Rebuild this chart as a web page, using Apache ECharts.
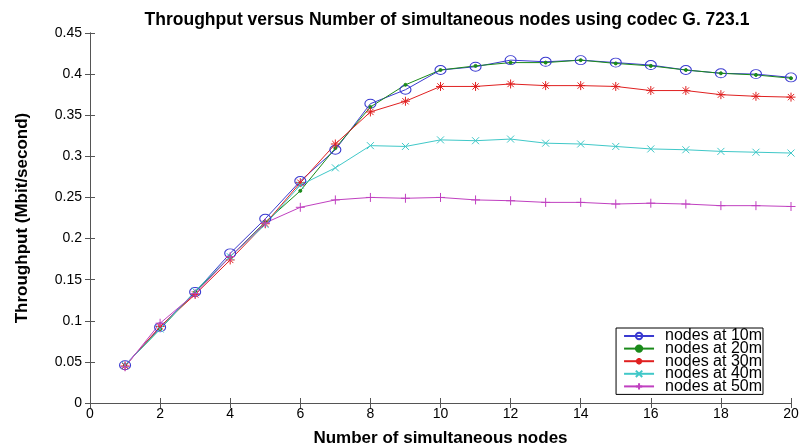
<!DOCTYPE html>
<html>
<head>
<meta charset="utf-8">
<script src="https://cdn.jsdelivr.net/npm/echarts@6/dist/echarts.min.js"></script>
<style>
  html, body { margin: 0; padding: 0; background: #fff; }
  #chart { width: 802px; height: 448px; }
</style>
</head>
<body>
<div id="chart"></div>
<script>
// nodes on x axis
const nodes = [1, 2, 3, 4, 5, 6, 7, 8, 9, 10, 11, 12, 13, 14, 15, 16, 17, 18, 19, 20];

// throughput (Mbit/s) per distance
const at10m = [0.046, 0.092, 0.135, 0.182, 0.224, 0.270, 0.308, 0.364, 0.381, 0.405, 0.409, 0.417, 0.415, 0.417, 0.414, 0.411, 0.405, 0.401, 0.400, 0.396];
const at20m = [0.046, 0.090, 0.135, 0.178, 0.220, 0.258, 0.310, 0.360, 0.387, 0.405, 0.410, 0.414, 0.414, 0.417, 0.413, 0.410, 0.405, 0.401, 0.399, 0.395];
const at30m = [0.045, 0.093, 0.132, 0.174, 0.218, 0.268, 0.315, 0.354, 0.367, 0.385, 0.385, 0.388, 0.386, 0.386, 0.385, 0.380, 0.380, 0.375, 0.373, 0.372];
const at40m = [0.046, 0.090, 0.136, 0.178, 0.217, 0.265, 0.286, 0.313, 0.312, 0.320, 0.319, 0.321, 0.316, 0.315, 0.312, 0.309, 0.308, 0.306, 0.305, 0.304];
const at50m = [0.044, 0.097, 0.133, 0.178, 0.219, 0.238, 0.247, 0.250, 0.249, 0.250, 0.247, 0.246, 0.244, 0.244, 0.242, 0.243, 0.242, 0.240, 0.240, 0.239];

const seriesNames = ['nodes at 10m', 'nodes at 20m', 'nodes at 30m', 'nodes at 40m', 'nodes at 50m'];

const chart = echarts.init(document.getElementById('chart'));

const pair = (vals) => nodes.map((n, i) => [n, vals[i]]);

// matlab-like markers
const ring = 'path://M1,0A1,1,0,1,1,-1,0A1,1,0,1,1,1,0Z';
const asterisk = 'path://M0,-1L0,1M-1,0L1,0M-0.7,-0.7L0.7,0.7M-0.7,0.7L0.7,-0.7';
const cross = 'path://M-1,-1L1,1M-1,1L1,-1';
const plus = 'path://M0,-1L0,1M-1,0L1,0';

const makeLine = (name, vals, color, symbol, size, fill) => ({
  name: name,
  type: 'line',
  data: pair(vals),
  symbol: symbol,
  symbolSize: size,
  showAllSymbol: true,
  lineStyle: { color: color, width: 1 },
  itemStyle: { color: fill, borderColor: color, borderWidth: 1 },
  emphasis: { disabled: true },
  animation: false
});

const axisLine = { show: true, lineStyle: { color: '#555', width: 1 } };
const tickIn = { show: true, inside: true, length: 5, lineStyle: { color: '#555' } };
const labelFont = { color: '#000', fontFamily: 'Liberation Sans', fontSize: 14 };
const nameFont = { fontFamily: 'Liberation Sans', fontWeight: 'bold', fontSize: 17, color: '#000' };

chart.setOption({
  backgroundColor: '#fff',
  title: {
    text: 'Throughput versus Number of simultaneous nodes using codec G. 723.1',
    left: 442,
    textAlign: 'center',
    top: 6,
    textStyle: { fontFamily: 'Liberation Sans', fontWeight: 'bold', fontSize: 17.5, color: '#000' }
  },
  grid: { left: 90, right: 11, top: 33, bottom: 45, containLabel: false, outerBoundsMode: 'none' },
  legend: {
    orient: 'vertical',
    right: 39,
    top: 328,
    data: seriesNames,
    backgroundColor: '#fff',
    borderColor: '#000',
    borderWidth: 1,
    borderRadius: 0,
    padding: [0, 1, 0, 7],
    itemWidth: 30,
    itemHeight: 8,
    itemGap: -3.4,
    textStyle: { fontFamily: 'Liberation Sans', fontSize: 16, color: '#000', padding: [0, 0, 0, 6] }
  },
  xAxis: [
    {
      type: 'value', min: 0, max: 20, interval: 2,
      name: 'Number of simultaneous nodes',
      nameLocation: 'middle', nameGap: 27,
      nameTextStyle: nameFont,
      axisLine: axisLine, axisTick: tickIn,
      axisLabel: Object.assign({ margin: 4 }, labelFont),
      splitLine: { show: false }
    },
    {
      type: 'value', min: 0, max: 20, interval: 2, position: 'top',
      axisLine: axisLine, axisTick: tickIn,
      axisLabel: { show: false }, splitLine: { show: false }
    }
  ],
  yAxis: [
    {
      type: 'value', min: 0, max: 0.45, interval: 0.05,
      name: 'Throughput (Mbit/second)',
      nameLocation: 'middle', nameGap: 59,
      nameTextStyle: nameFont,
      axisLine: axisLine, axisTick: tickIn,
      axisLabel: Object.assign({ margin: 8 }, labelFont),
      splitLine: { show: false }
    },
    {
      type: 'value', min: 0, max: 0.45, interval: 0.05, position: 'right',
      axisLine: axisLine, axisTick: tickIn,
      axisLabel: { show: false }, splitLine: { show: false }
    }
  ],
  series: [
    makeLine(seriesNames[0], at10m, '#3a3ad0', ring, [11, 9], 'rgba(0,0,0,0)'),
    makeLine(seriesNames[1], at20m, '#1a8a1a', 'circle', 3, '#1a8a1a'),
    makeLine(seriesNames[2], at30m, '#e02020', asterisk, 9, '#e02020'),
    makeLine(seriesNames[3], at40m, '#40c8c8', cross, 7, '#40c8c8'),
    makeLine(seriesNames[4], at50m, '#c040c0', plus, 9, '#c040c0')
  ]
});
</script>
</body>
</html>
